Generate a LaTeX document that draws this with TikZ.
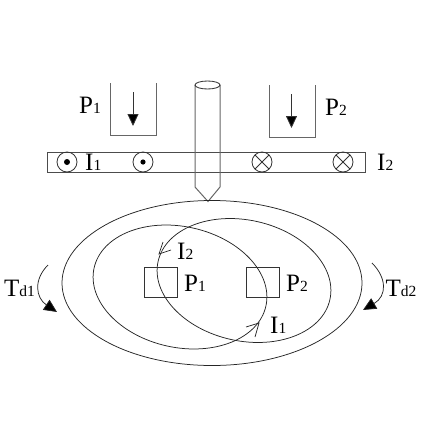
\documentclass[tikz,border=0pt]{standalone}
\usepackage{fontspec}
\setmainfont{Liberation Serif}
\usetikzlibrary{arrows.meta}
\tikzset{
  ln/.style={draw=black!80,line width=0.85pt},
  thin ln/.style={draw=black!85,line width=0.75pt},
  cup/.style={draw=black!60,line width=1pt},
  bigtip/.style={-{Triangle[length=12pt,width=11pt,fill=black]}},
  lab/.style={inner sep=0pt,anchor=base west,font=\fontsize{25}{25}\selectfont},
}
\newcommand{\sbs}[1]{{\fontsize{15.5}{15.5}\selectfont #1}}
\begin{document}
\begin{tikzpicture}[x=1pt,y=-1pt]
\useasboundingbox (0,0) rectangle (426,426);
% cups
\draw[cup] (110,83) -- (110,135) -- (156,135) -- (156,83);
\draw[cup] (269,85) -- (269,137) -- (315,137) -- (315,85);
\draw[ln,bigtip] (133,92) -- (133,126);
\draw[ln,bigtip] (291.5,94) -- (291.5,128);
% bar
\draw[cup,draw=black!70] (47,152) rectangle (365,172);
% tool
\draw[cup] (195,85) -- (195,187) -- (208,201.5) -- (220,187) -- (220,85);
\draw[ln] (207.5,85) ellipse [x radius=12.5,y radius=4];
% coil symbols
\draw[ln] (67,162) circle [radius=10];
\fill[black] (67,162) circle [radius=3];
\draw[ln] (143,162) circle [radius=10];
\fill[black] (143,162) circle [radius=2.6];
\foreach \cx in {262,343}{
  \draw[ln] (\cx,162) circle [radius=10];
  \draw[ln] (\cx-7,155) -- (\cx+7,169) (\cx-7,169) -- (\cx+7,155);
}
% ellipses
\draw[thin ln] (212,283) ellipse [x radius=150,y radius=82.5];
\draw[thin ln,rotate around={-12.5:(180,287)}] (180,287) ellipse [x radius=88,y radius=60.4];
\draw[thin ln,rotate around={-12.5:(244,280.5)}] (244,280.5) ellipse [x radius=88,y radius=60.4];
% small squares
\draw[ln] (144,267) rectangle (177,297);
\draw[ln] (246,267) rectangle (279,297);
% current arrowheads
\draw[thin ln] (163,242) -- (159,254) -- (171,250);
\draw[thin ln] (246,327) -- (259,323) -- (255,337);
% torque arrows
\draw[thin ln,-{Triangle[length=13pt,width=12pt,fill=black]}] (48,265) .. controls (33,280) and (36,298) .. (57,312);
\draw[thin ln,-{Triangle[length=13pt,width=12pt,fill=black]}] (372,263) .. controls (387,278) and (387,296) .. (363,310);
% labels
\node[lab] (p1a) at (79,113) {P\sbs{1}};
\node[lab] (p2a) at (325,115) {P\sbs{2}};
\node[lab] (i1a) at (85,170) {I\sbs{1}};
\node[lab] (i2a) at (377,170) {I\sbs{2}};
\node[lab] (i2b) at (177,259) {I\sbs{2}};
\node[lab] (p1b) at (184,291) {P\sbs{1}};
\node[lab] (p2b) at (286,291) {P\sbs{2}};
\node[lab] (i1b) at (270,333) {I\sbs{1}};
\node[lab] (td1) at (4,296) {T\sbs{d1}};
\node[lab] (td2) at (385.5,296) {T\sbs{d2}};
\end{tikzpicture}
\end{document}
